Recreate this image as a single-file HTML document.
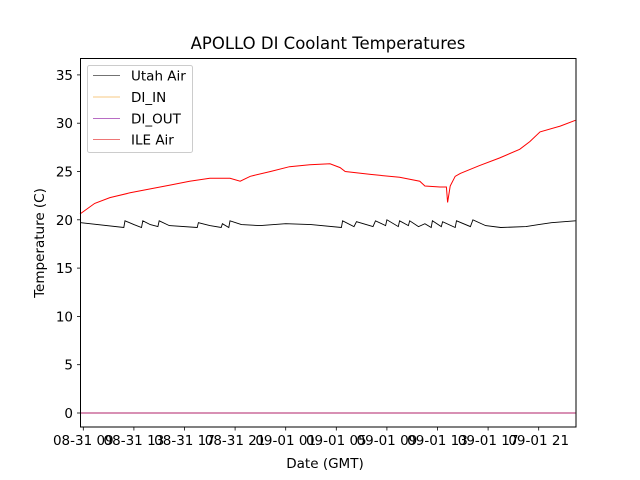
<!DOCTYPE html>
<html><head><meta charset="utf-8"><style>
body{margin:0;background:#fff}
svg{display:block;font-family:"DejaVu Sans","Liberation Sans",sans-serif}
</style></head><body>
<svg id="c" width="640" height="480">
<text x="328" y="49" font-size="16.5" text-anchor="middle">APOLLO DI Coolant Temperatures</text>
<text x="325" y="468" font-size="13.5" text-anchor="middle">Date (GMT)</text>
<text transform="translate(44,243) rotate(-90)" font-size="13.5" text-anchor="middle">Temperature (C)</text>
<g id="ax"></g>
<g id="series"></g>
<rect x="80.5" y="58.5" width="495.5" height="368.5" fill="none" stroke="#000" stroke-width="1"/>
<g>
<rect x="87.5" y="65.5" width="105" height="87" fill="#fff" fill-opacity="0.8" stroke="#ccc" rx="2"/>
<line x1="93" x2="120" y1="75.5" y2="75.5" stroke="#444" stroke-width="0.8"/>
<text x="131" y="80.5" font-size="13.5">Utah Air</text>
<line x1="93" x2="120" y1="97" y2="97" stroke="#f5b95a" stroke-width="0.8"/>
<text x="131" y="102" font-size="13.5">DI_IN</text>
<line x1="93" x2="120" y1="118.5" y2="118.5" stroke="#a03cb0" stroke-width="0.8"/>
<text x="131" y="123.5" font-size="13.5">DI_OUT</text>
<line x1="93" x2="120" y1="139.5" y2="139.5" stroke="#e84848" stroke-width="0.8"/>
<text x="131" y="144.5" font-size="13.5">ILE Air</text>
</g>
</svg>
<script>
const xTickLabels=["08-31 09","08-31 13","08-31 17","08-31 21","09-01 01","09-01 05","09-01 09","09-01 13","09-01 17","09-01 21"];
const xTickHours=[0,4,8,12,16,20,24,28,32,36];
const yTicks=[0,5,10,15,20,25,30,35];
const utahHours=[-0.2,3.2,3.3,4.0,4.6,4.7,5.3,5.9,6.0,6.8,9.0,9.1,10.0,10.9,11.0,11.5,11.6,12.5,14,16,18,20.4,20.5,21.4,21.6,22.9,23.1,23.9,24.0,24.9,25.0,25.7,25.8,26.5,27,27.5,27.6,28.3,28.4,29.4,29.5,30.6,30.8,31.8,33,35,36,37,38.9];
const utahVals=[19.7,19.2,19.9,19.5,19.2,19.9,19.5,19.3,19.9,19.4,19.2,19.7,19.4,19.2,19.6,19.2,19.9,19.5,19.4,19.6,19.5,19.2,19.9,19.3,19.8,19.3,19.9,19.4,20.0,19.3,19.9,19.4,19.9,19.3,19.6,19.2,19.9,19.3,19.8,19.2,19.9,19.3,20.0,19.4,19.2,19.3,19.5,19.7,19.9];
const ileHours=[-0.26,0.9,2.1,3.7,5.3,6.9,8.4,10.0,11.6,12.4,13.2,14.8,16.3,17.9,19.5,20.3,20.7,22.7,25.0,26.6,27.0,28.2,28.7,28.8,29.0,29.4,29.8,31.3,32.9,34.5,35.3,36.1,37.7,38.9];
const ileVals=[20.6,21.7,22.3,22.8,23.2,23.6,24.0,24.3,24.3,24.0,24.5,25.0,25.5,25.7,25.8,25.4,25.0,24.7,24.4,24.0,23.5,23.4,23.4,21.8,23.5,24.5,24.8,25.6,26.4,27.3,28.1,29.1,29.7,30.3];
const diHours=[-0.2,38.9];
const diInVals=[0,0];
const diOutVals=[0,0];
const NS="http://www.w3.org/2000/svg";
const X=h=>83.3+h*12.65;
const Y=v=>413-v*9.66;
const ax=document.getElementById('ax'),sg=document.getElementById('series');
function mk(tag,attrs,parent){const e=document.createElementNS(NS,tag);for(const k in attrs)e.setAttribute(k,attrs[k]);parent.appendChild(e);return e;}
xTickHours.forEach((h,i)=>{
 const t=mk('line',{x1:X(h),x2:X(h),y1:427,y2:430.5,stroke:'#000','stroke-width':0.8},ax);
 
 
 const l=mk('text',{x:X(h),y:445,'font-size':13.5,'text-anchor':'middle'},ax);
 l.textContent=xTickLabels[i];
 
 
});
yTicks.forEach(v=>{
 const t=mk('line',{x1:77,x2:80.5,y1:Y(v),y2:Y(v),stroke:'#000','stroke-width':0.8},ax);
 
 
 const l=mk('text',{x:73,y:Y(v)+5,'font-size':13.5,'text-anchor':'end'},ax);
 l.textContent=v;
 
 
});
function pts(hs,vs){return hs.map((h,i)=>X(h).toFixed(1)+','+Y(vs[i]).toFixed(1)).join(' ');}
const a=mk('polyline',{points:pts(utahHours,utahVals),fill:'none',stroke:'#000','stroke-width':0.9},sg);


const b=mk('polyline',{points:pts(diHours,diInVals),fill:'none',stroke:'#f5b95a','stroke-width':0.9},sg);


const c=mk('polyline',{points:pts(diHours,diOutVals),fill:'none',stroke:'#b0206a','stroke-width':0.9},sg);


const d=mk('polyline',{points:pts(ileHours,ileVals),fill:'none',stroke:'#ff0000','stroke-width':1},sg);


</script>
</body></html>
